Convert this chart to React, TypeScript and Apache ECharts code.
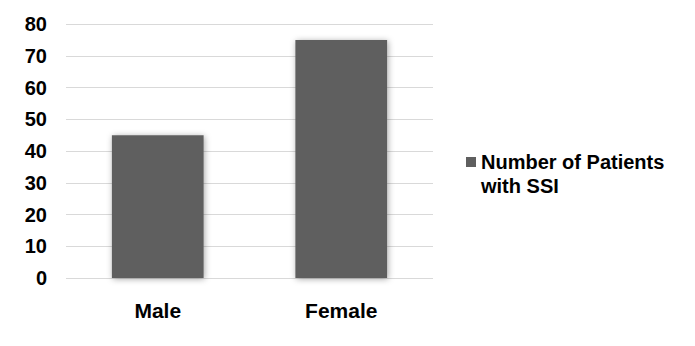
import React, { useEffect, useRef } from "react";
import * as echarts from "echarts";

const categories = ["Male", "Female"];
const seriesName = "Number of Patients with SSI";
const values = [45, 75];
const yTicks = { min: 0, max: 80, interval: 10 };

export default function App() {
  const ref = useRef<HTMLDivElement>(null);
  useEffect(() => {
    if (!ref.current) return;
    const chart = echarts.init(ref.current, null, { renderer: "svg" });
    chart.setOption({
      animation: false,
      backgroundColor: "#ffffff",
      textStyle: { fontFamily: "Liberation Sans, Arial, sans-serif" },
      grid: { left: 66, right: 262, top: 24, bottom: 68, containLabel: false },
      xAxis: {
        type: "category",
        data: categories,
        axisLine: { show: false },
        axisTick: { show: false },
        axisLabel: {
          margin: 22,
          color: "#000",
          fontWeight: "bold",
          fontSize: 21,
          fontFamily: "Liberation Sans, Arial, sans-serif",
        },
      },
      yAxis: {
        type: "value",
        min: yTicks.min,
        max: yTicks.max,
        interval: yTicks.interval,
        axisLine: { show: false },
        axisTick: { show: false },
        splitLine: { lineStyle: { color: "#d9d9d9", width: 1 } },
        axisLabel: {
          margin: 19,
          color: "#000",
          fontWeight: "bold",
          fontSize: 20,
          fontFamily: "Liberation Sans, Arial, sans-serif",
        },
      },
      legend: {
        orient: "vertical",
        left: 461,
        top: 121,
        icon: "rect",
        itemWidth: 10,
        itemHeight: 10,
        itemGap: 5,
        data: [seriesName],
        formatter: () => " \nNumber of Patients\nwith SSI",
        textStyle: {
          color: "#000",
          fontWeight: "bold",
          fontSize: 20,
          lineHeight: 24,
          fontFamily: "Liberation Sans, Arial, sans-serif",
        },
      },
      series: [
        {
          name: seriesName,
          type: "bar",
          data: values,
          barWidth: "50%",
          itemStyle: {
            color: "#5f5f5f",
            shadowBlur: 6,
            shadowColor: "rgba(0,0,0,0.35)",
            shadowOffsetX: 1,
            shadowOffsetY: 1,
          },
        },
      ],
    });
    return () => chart.dispose();
  }, []);
  return <div ref={ref} style={{ width: 695, height: 346, margin: -8 }} />;
}
